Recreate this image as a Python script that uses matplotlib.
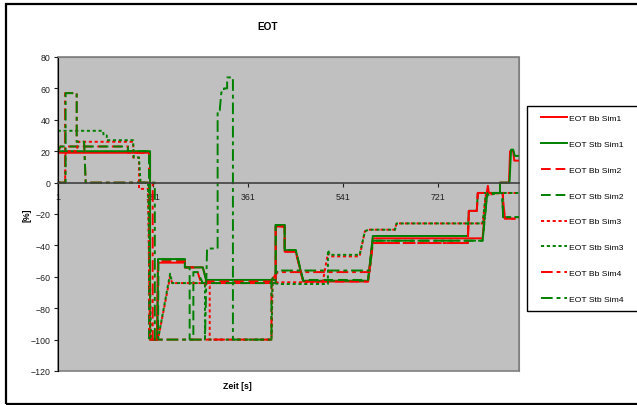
import matplotlib
matplotlib.use('Agg')
import matplotlib.pyplot as plt
from matplotlib.patches import Rectangle

plt.rcParams['font.family'] = ['Liberation Sans', 'DejaVu Sans']

# EOT time series (time in s, value in %), breakpoints of the step signals
t_bb1 = [1, 176, 176, 189, 191, 242, 242, 276, 284, 414, 414, 431, 431, 452, 466, 589, 598, 806, 812, 816, 818, 839, 839, 856, 858, 864, 866, 875]
v_bb1 = [19, 19, -100, -100, -51, -51, -54, -54, -64, -64, -28, -28, -44, -44, -63, -63, -35.5, -35.5, -10, -2, -6.6, -6.6, 0, 0, 20, 20, 14, 14]

t_stb1 = [1, 176, 176, 190, 191, 242, 242, 276, 282, 414, 414, 431, 431, 452, 466, 589, 598, 778, 780, 795, 797, 839, 839, 857, 860, 864, 867, 875]
v_stb1 = [20, 20, -100, -100, -48.7, -48.7, -54, -54, -62, -62, -27, -27, -43, -43, -62.5, -62.5, -34, -34, -18, -18, -6.6, -6.6, 0, 0, 21, 21, 17, 17]

t_bb2 = [1, 6, 134, 134, 174, 174, 190, 191, 242, 242, 258, 266, 272, 414, 414, 431, 431, 452, 466, 589, 598, 778, 780, 795, 797, 844, 848, 875]
v_bb2 = [19, 23, 23, 19, 19, -100, -100, -50, -50, -54, -54, -57, -63, -63, -28, -28, -44, -44, -63, -63, -38.5, -38.5, -18, -18, -6.6, -6.6, -23, -23]

t_stb2 = [1, 6, 134, 134, 174, 174, 191, 192, 242, 242, 251, 251, 258, 258, 266, 276, 414, 414, 431, 431, 452, 466, 589, 598, 806, 814, 816, 843, 845, 875]
v_stb2 = [20, 23, 23, 20, 20, -100, -100, -49, -49, -54, -54, -100, -100, -57, -57, -64, -64, -27, -27, -43, -43, -62, -62, -37, -37, -10, -6.6, -6.6, -22, -22]

t_bb3 = [1, 15, 16, 37, 40, 144, 144, 155, 155, 172, 176, 191, 214, 218, 276, 289, 289, 406, 408, 422, 503, 513, 517, 573, 583, 590, 640, 643, 806, 812, 839, 875]
v_bb3 = [0, 0, 20, 20, 26, 26, 16, 16, -4, -4, -100, -100, -60, -64, -64, -66, -100, -100, -64, -63.5, -63.5, -45, -47, -47, -31, -30, -30, -26, -26, -8, -6.6, -6.6]

t_stb3 = [1, 87, 88, 94, 94, 144, 145, 155, 158, 172, 178, 191, 214, 218, 276, 280, 280, 406, 408, 422, 503, 513, 513, 517, 573, 583, 590, 640, 643, 806, 812, 839, 875]
v_stb3 = [33, 33, 30, 30, 27, 27, 16, 16, 0, 0, -100, -100, -58, -64, -64, -64, -100, -100, -64, -64.6, -64.6, -64.6, -43, -46, -46, -31, -30, -30, -26, -26, -8, -6.6, -6.6]

t_bb4 = [1, 15, 15, 37, 37, 51, 54, 150, 181, 181, 406, 406, 418, 592, 598, 778, 780, 795, 797, 844, 848, 875]
v_bb4 = [0, 0, 57, 57, 26, 26, 0, 0, 0, -100, -100, -62, -57, -57, -38.5, -38.5, -18, -18, -6.6, -6.6, -23, -23]

t_stb4 = [1, 16, 16, 37, 37, 51, 54, 155, 185, 185, 280, 284, 304, 304, 308, 311, 316, 316, 322, 322, 330, 333, 333, 406, 406, 418, 592, 598, 806, 814, 816, 843, 845, 875]
v_stb4 = [0, 0, 57, 57, 26, 26, 0, 0, 0, -100, -100, -42, -42, 46, 46, 57.5, 57.5, 60, 60, 67, 67, 67, -100, -100, -62, -56, -56, -37, -37, -10, -6.6, -6.6, -22, -22]

labels = ['EOT Bb Sim1', 'EOT Stb Sim1', 'EOT Bb Sim2', 'EOT Stb Sim2',
          'EOT Bb Sim3', 'EOT Stb Sim3', 'EOT Bb Sim4', 'EOT Stb Sim4']
xticks = [1, 181, 361, 541, 721]

RED = '#ff0000'
GREEN = '#008000'
LW = 1.4
dash_long = (5, 2.5)
dash_short = (1.6, 1.4)
dash_dot = (6, 2, 2, 2)

series = [
    (t_bb1, v_bb1, RED, None),
    (t_stb1, v_stb1, GREEN, None),
    (t_bb2, v_bb2, RED, dash_long),
    (t_stb2, v_stb2, GREEN, dash_long),
    (t_bb3, v_bb3, RED, dash_short),
    (t_stb3, v_stb3, GREEN, dash_short),
    (t_bb4, v_bb4, RED, dash_dot),
    (t_stb4, v_stb4, GREEN, dash_dot),
]

W, H = 637, 406
fig = plt.figure(figsize=(W / 100, H / 100), dpi=100)
ax = fig.add_axes([57.7 / W, 34 / H, (519 - 57.7) / W, (372 - 58) / H])
ax.set_facecolor('#c0c0c0')

handles = []
for (t, v, c, d), lab in zip(series, labels):
    ln, = ax.plot(t, v, color=c, lw=LW, label=lab)
    if d is not None:
        ln.set_dashes(d)
    handles.append(ln)

ax.set_xlim(1, 875)
ax.set_ylim(-120, 80)
ax.set_yticks(range(-120, 81, 20))
ax.set_xticks(xticks)

# x axis crosses at zero, plot area framed in grey
for s in ['top', 'right']:
    ax.spines[s].set_color('#808080')
ax.spines['left'].set_color('black')
ax.spines['bottom'].set_position(('data', 0))
ax.spines['bottom'].set_color('#404040')
ax.spines['bottom'].set_linewidth(1.2)
ax.add_patch(Rectangle((0, 0), 1, 1, transform=ax.transAxes, fill=False,
                       edgecolor='#808080', lw=1.2, clip_on=False, zorder=0.5))
ax.tick_params(axis='both', labelsize=6.3, length=3, width=0.8, pad=2, colors='#202020')
ax.tick_params(axis='x', pad=4)

fig.text(268 / W, 1 - 27 / H, 'EOT', ha='center', va='center', fontsize=7.2, fontweight='bold')
fig.text(237 / W, 1 - 387 / H, 'Zeit [s]', ha='center', va='center', fontsize=6.3, fontweight='bold')
fig.text(27 / W, 1 - 215 / H, '[%]', ha='center', va='center', rotation=90, fontsize=6.3, fontweight='bold')

fig.legend(handles=handles, loc='upper left', bbox_to_anchor=(541 / W, 1 - 115 / H),
           frameon=False, fontsize=6.1, handlelength=3.1, handletextpad=0.15,
           labelspacing=2.12, borderpad=0, borderaxespad=0)

# legend box and outer chart frame
fig.patches.append(Rectangle((527 / W, 1 - 312 / H), 140 / W, 205 / H, transform=fig.transFigure,
                             fill=False, edgecolor='black', lw=1.0))
fig.patches.append(Rectangle((6 / W, 1 - 405 / H), 700 / W, 400 / H, transform=fig.transFigure,
                             fill=False, edgecolor='black', lw=1.6))

fig.savefig('out.png', dpi=100)
